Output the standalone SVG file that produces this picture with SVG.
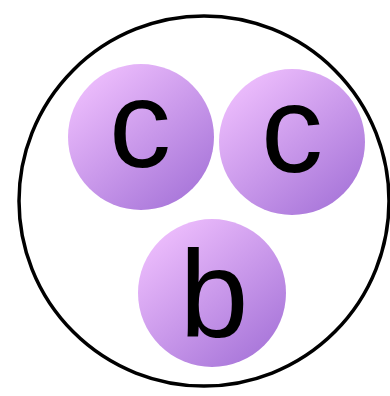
<svg xmlns="http://www.w3.org/2000/svg" width="390" height="396" viewBox="0 0 390 396">
<defs>
<linearGradient id="g" x1="0.15" y1="0.1" x2="0.85" y2="0.95">
<stop offset="0" stop-color="#ecbcfc"/>
<stop offset="1" stop-color="#a775d9"/>
</linearGradient>
<style>
.n{fill:url(#g)}
.t{font-family:"Liberation Sans",Arial,sans-serif;font-size:124px;fill:#000;text-anchor:middle}
</style>
</defs>
<rect width="390" height="396" fill="#fff"/>
<circle id="outer" cx="204" cy="201" r="185" fill="none" stroke="#000" stroke-width="3.5"/>
<g id="node-c1"><circle class="n" cx="141" cy="137" r="73"/><text class="t" x="140" y="167">c</text></g>
<g id="node-c2"><circle class="n" cx="292" cy="142" r="73"/><text class="t" x="292" y="172">c</text></g>
<g id="node-b"><circle class="n" cx="212" cy="293" r="74"/><text class="t" x="214" y="337">b</text></g>
<g id="connectors"/>
</svg>
